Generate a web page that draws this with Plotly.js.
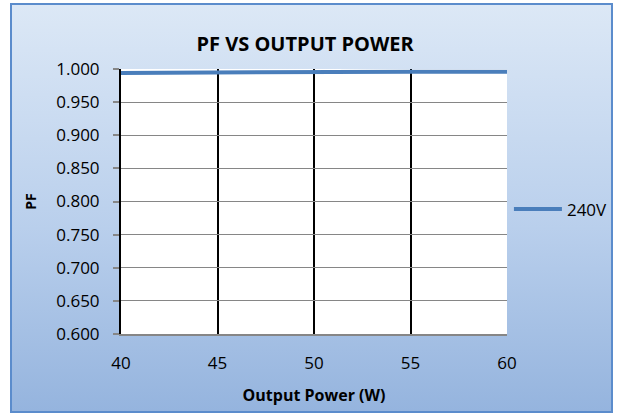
<!DOCTYPE html>
<html>
<head>
<meta charset="utf-8">
<script src="https://cdn.plot.ly/plotly-3.0.1.min.js"></script>
<style>
  html, body { margin: 0; padding: 0; width: 624px; height: 418px; overflow: hidden; background: #ffffff; }
  #frame { position: absolute; left: 10px; top: 3px; width: 599px; height: 406px;
           border: 2px solid #5b8ccc;
           background: linear-gradient(to bottom, #dce8f6 0%, #b9cfec 55%, #95b4de 100%); }
  #chart { position: absolute; left: 0; top: 0; width: 624px; height: 418px; }
</style>
</head>
<body>
<div id="frame"></div>
<div id="chart"></div>
<script>
const outputPower = [40, 45, 50, 55, 60];
const pf240 = [0.994, 0.995, 0.996, 0.996, 0.996];
const seriesName = "240V";
const yTicks = [0.6, 0.65, 0.7, 0.75, 0.8, 0.85, 0.9, 0.95, 1.0];
const yTickText = ["0.600","0.650","0.700","0.750","0.800","0.850","0.900","0.950","1.000"];
const xTicks = [40, 45, 50, 55, 60];

const font = "'Open Sans', 'DejaVu Sans', sans-serif";

const data = [{
  x: outputPower, y: pf240, name: seriesName, type: "scatter", mode: "lines",
  line: { color: "#4a7ebb", width: 4 }
}];

const layout = {
  width: 624, height: 418,
  margin: { l: 121, r: 117, t: 69, b: 84, autoexpand: false },
  paper_bgcolor: "rgba(0,0,0,0)",
  plot_bgcolor: "#ffffff",
  font: { family: font, color: "#000000" },
  title: { text: "<b>PF VS OUTPUT POWER</b>", font: { family: font, size: 20, color: "#000" },
           xref: "container", x: 0.489, xanchor: "center", yref: "container", y: 0.895, yanchor: "middle" },
  xaxis: {
    range: [40, 60], tickvals: xTicks, ticktext: xTicks.map(String),
    showgrid: true, gridcolor: "#000000", gridwidth: 2,
    showline: true, linecolor: "#868686", linewidth: 2,
    ticks: "", zeroline: false,
    tickfont: { family: font, size: 17 }, ticklabelstandoff: 13,
    title: { text: "<b>Output Power (W)</b>", font: { family: font, size: 16 }, standoff: 16 }
  },
  yaxis: {
    range: [0.6, 1.0], tickvals: yTicks, ticktext: yTickText,
    showgrid: true, gridcolor: "#868686", gridwidth: 1,
    showline: true, linecolor: "#000000", linewidth: 2,
    ticks: "outside", ticklen: 6, tickcolor: "#868686", tickwidth: 2,
    zeroline: false,
    tickfont: { family: font, size: 17 }, ticklabelstandoff: 10,
    title: { text: "<b>PF</b>", font: { family: font, size: 14 }, standoff: 16 }
  },
  showlegend: true,
  legend: { x: 1.005, xanchor: "left", y: 0.47, yanchor: "middle", bgcolor: "rgba(0,0,0,0)",
            itemwidth: 48, font: { family: font, size: 17 } }
};

Plotly.newPlot("chart", data, layout, { displayModeBar: false, staticPlot: true });
</script>
</body>
</html>
